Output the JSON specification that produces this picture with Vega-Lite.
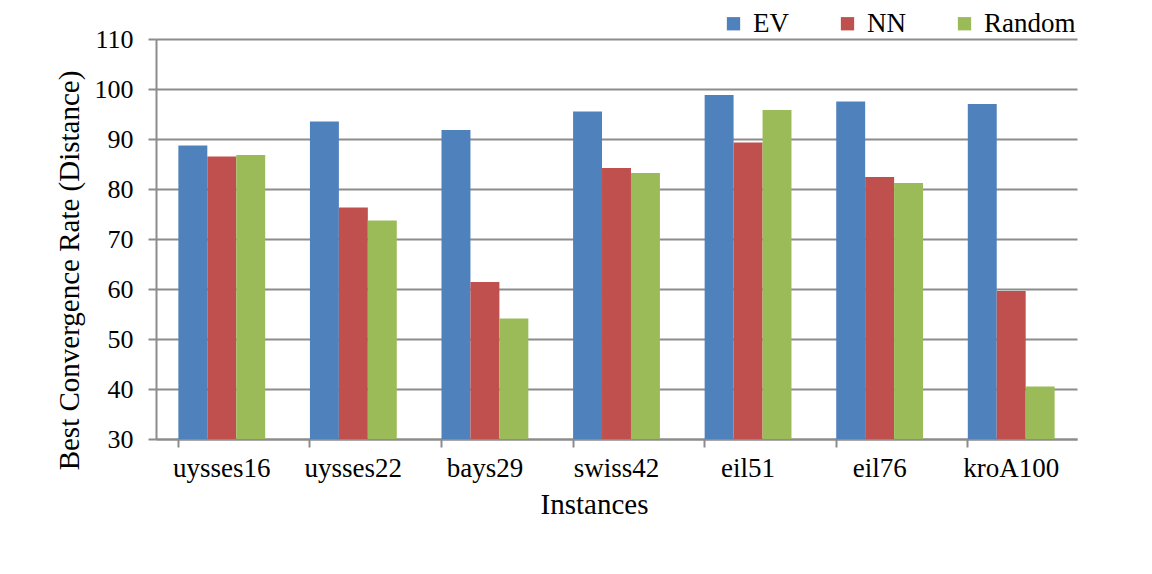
{
  "$schema": "https://vega.github.io/schema/vega-lite/v6.json",
  "autosize": {"type": "none"},
  "padding": {"left": 156, "top": 39, "right": 75, "bottom": 135},
  "width": 921,
  "height": 400,
  "background": "white",
  "config": {
    "font": "Liberation Serif",
    "view": {"stroke": null},
    "axis": {
      "labelFont": "Liberation Serif",
      "titleFont": "Liberation Serif",
      "labelColor": "black",
      "titleColor": "black",
      "titleFontWeight": "normal",
      "domainColor": "#8c8c8c",
      "domainWidth": 2,
      "tickColor": "#8c8c8c",
      "tickWidth": 2,
      "gridColor": "#8c8c8c",
      "gridWidth": 2
    }
  },
  "data": {
    "values": [
      {"instance": "uysses16", "method": "EV", "rate": 88.7},
      {"instance": "uysses16", "method": "NN", "rate": 86.5},
      {"instance": "uysses16", "method": "Random", "rate": 86.8},
      {"instance": "uysses22", "method": "EV", "rate": 93.5},
      {"instance": "uysses22", "method": "NN", "rate": 76.3},
      {"instance": "uysses22", "method": "Random", "rate": 73.7},
      {"instance": "bays29", "method": "EV", "rate": 91.8},
      {"instance": "bays29", "method": "NN", "rate": 61.4},
      {"instance": "bays29", "method": "Random", "rate": 54.1},
      {"instance": "swiss42", "method": "EV", "rate": 95.5},
      {"instance": "swiss42", "method": "NN", "rate": 84.2},
      {"instance": "swiss42", "method": "Random", "rate": 83.2},
      {"instance": "eil51", "method": "EV", "rate": 98.8},
      {"instance": "eil51", "method": "NN", "rate": 89.3},
      {"instance": "eil51", "method": "Random", "rate": 95.8},
      {"instance": "eil76", "method": "EV", "rate": 97.5},
      {"instance": "eil76", "method": "NN", "rate": 82.4},
      {"instance": "eil76", "method": "Random", "rate": 81.2},
      {"instance": "kroA100", "method": "EV", "rate": 97.0},
      {"instance": "kroA100", "method": "NN", "rate": 59.6},
      {"instance": "kroA100", "method": "Random", "rate": 40.5}
    ]
  },
  "mark": {"type": "bar", "clip": true},
  "encoding": {
    "x": {
      "field": "instance",
      "type": "nominal",
      "sort": null,
      "scale": {"paddingInner": 0.34, "paddingOuter": 0.17},
      "axis": {
        "title": "Instances",
        "labelAngle": 0,
        "labelFontSize": 27,
        "titleFontSize": 29,
        "bandPosition": 0,
        "tickSize": 8,
        "labelPadding": 8,
        "titleX": 438,
        "titleY": 74,
        "titleBaseline": "alphabetic"
      }
    },
    "xOffset": {"field": "method", "type": "nominal", "sort": ["EV", "NN", "Random"], "scale": {"paddingInner": 0, "paddingOuter": 0}},
    "y": {
      "field": "rate",
      "type": "quantitative",
      "scale": {"domain": [30, 110], "nice": false, "zero": false},
      "axis": {
        "title": "Best Convergence Rate (Distance)",
        "values": [30, 40, 50, 60, 70, 80, 90, 100, 110],
        "labelFontSize": 26,
        "titleFontSize": 29,
        "tickSize": 8,
        "labelPadding": 15,
        "titleX": -78,
        "titleY": 231,
        "titleBaseline": "alphabetic"
      }
    },
    "color": {
      "field": "method",
      "type": "nominal",
      "sort": ["EV", "NN", "Random"],
      "scale": {"domain": ["EV", "NN", "Random"], "range": ["#4F81BD", "#C0504D", "#9BBB59"]},
      "legend": {
        "title": null,
        "orient": "none",
        "direction": "horizontal",
        "legendX": 564,
        "legendY": -29,
        "symbolType": "square",
        "symbolSize": 177,
        "symbolStrokeWidth": 0,
        "symbolOpacity": 1,
        "labelFont": "Liberation Serif",
        "labelFontSize": 27,
        "labelColor": "black",
        "labelOffset": 6,
        "columnPadding": 45
      }
    }
  }
}
